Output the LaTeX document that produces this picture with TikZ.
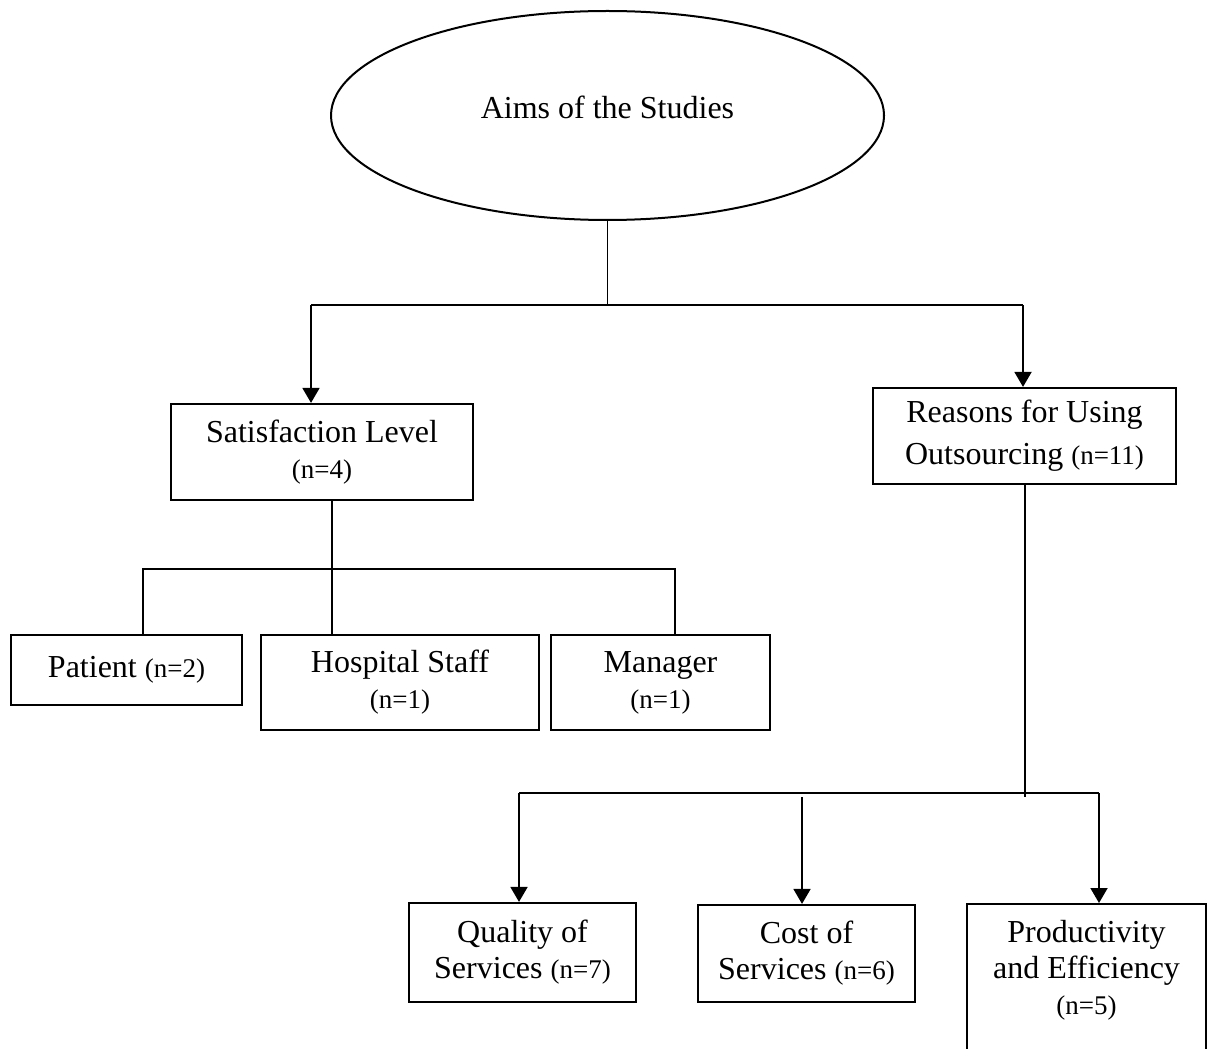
\documentclass[tikz,border=0pt]{standalone}
\usepackage{fontspec}
\setmainfont{Liberation Serif}
\usetikzlibrary{shapes.geometric,arrows.meta}
\newcommand{\nsmall}[1]{{\fontsize{13.5}{16}\selectfont #1}}

\begin{document}
\begin{tikzpicture}[x=0.5pt, y=-0.5pt,
        font=\fontsize{16}{18}\selectfont,
        box/.style={draw, line width=1.1pt, align=center, inner sep=0pt},
        oval/.style={draw, ellipse, line width=1pt, minimum width=276.5pt, minimum height=104.5pt},
        link/.style={line width=0.9pt},
        arrow/.style={link, -{Triangle[width=8.5pt,length=7.5pt]}}
    ]
        \useasboundingbox (0,0) rectangle (1208,1048);
        \clip (0,0) rectangle (1208,1048);

        \node[oval] (aims) at (607.5,115.5) {};
        \node (aimstext) at (607.5,107) {Aims of the Studies};

        \node[box, minimum width=151pt, minimum height=48pt] (sat) at (322,452) {Satisfaction Level\\\nsmall{(n=4)}};
        \node[box, minimum width=151.5pt, minimum height=48pt] (reas) at (1024.5,436) {Reasons for Using\\[3pt]Outsourcing \nsmall{(n=11)}};

        \node[box, minimum width=115.5pt, minimum height=35pt] (pat) at (126.5,670) {Patient \nsmall{(n=2)}};
        \node[box, minimum width=139pt, minimum height=47.5pt] (staff) at (400,682.5) {Hospital Staff\\\nsmall{(n=1)}};
        \node[box, minimum width=109.5pt, minimum height=47.5pt] (mgr) at (660.5,682.5) {Manager\\\nsmall{(n=1)}};

        \node[box, minimum width=113.5pt, minimum height=49.5pt] (qual) at (522.5,952.5) {Quality of\\Services \nsmall{(n=7)}};
        \node[box, minimum width=108.5pt, minimum height=48.5pt] (cost) at (806.5,953.5) {Cost of\\Services \nsmall{(n=6)}};
        \node[box, minimum width=119.5pt, minimum height=90pt, anchor=north] (prod) at (1086.5,903) {};
        \node[align=center] (prodtext) at (1086.5,970) {Productivity\\and Efficiency\\\nsmall{(n=5)}};

        % top split
        \coordinate (top) at (607.5,305);
        \coordinate (topL) at (311,305);
        \coordinate (topR) at (1023,305);
        \draw[link] (aims) -- (top);
        \draw[link] (topL) -- (topR);
        \draw[arrow] (topL) -- (topL |- sat.north);
        \draw[arrow] (topR) -- (topR |- reas.north);

        % satisfaction branch
        \coordinate (midS) at (332,569);
        \coordinate (midL) at (143,569);
        \coordinate (midR) at (675,569);
        \draw[link] (midS |- sat.south) -- (midS |- staff.north);
        \draw[link] (midL |- pat.north) -- (midL) -- (midR) -- (midR |- mgr.north);

        % reasons branch
        \coordinate (lowS) at (1025,797);
        \coordinate (lowL) at (519,793);
        \coordinate (lowR) at (1099,793);
        \coordinate (lowM) at (802,797);
        \draw[link] (lowS |- reas.south) -- (lowS);
        \draw[link] (lowL) -- (lowR);
        \draw[arrow] (lowL) -- (lowL |- qual.north);
        \draw[arrow] (lowM) -- (lowM |- cost.north);
        \draw[arrow] (lowR) -- (lowR |- prod.north);
    \end{tikzpicture}
\end{document}
